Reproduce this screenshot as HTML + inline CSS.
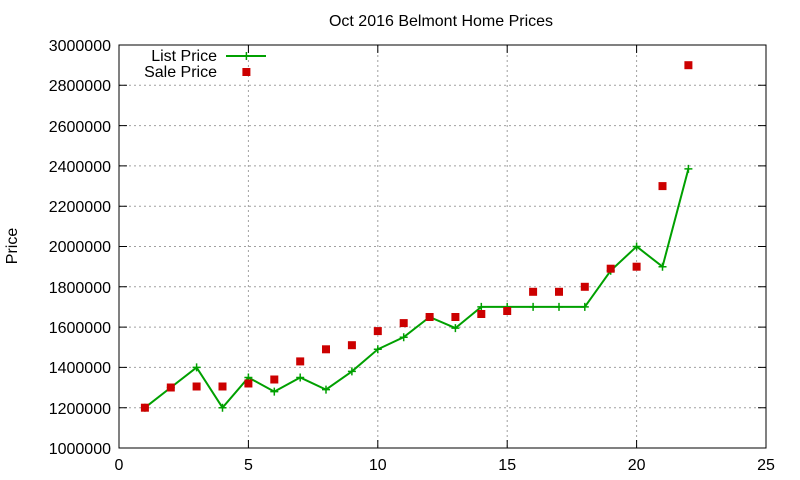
<!DOCTYPE html>
<html><head><style>body{margin:0;background:#fff}svg{display:block}text{font-family:"Liberation Sans",sans-serif;font-size:16px;fill:#000}</style></head><body>
<svg width="800" height="480" xmlns="http://www.w3.org/2000/svg">
<g stroke="#a0a0a0" stroke-width="1" stroke-dasharray="2,3">
<line x1="248.4" y1="45" x2="248.4" y2="448"/><line x1="377.8" y1="45" x2="377.8" y2="448"/><line x1="507.2" y1="45" x2="507.2" y2="448"/><line x1="636.6" y1="45" x2="636.6" y2="448"/>
<line x1="119" y1="407.7" x2="766" y2="407.7"/><line x1="119" y1="367.4" x2="766" y2="367.4"/><line x1="119" y1="327.1" x2="766" y2="327.1"/><line x1="119" y1="286.8" x2="766" y2="286.8"/><line x1="119" y1="246.5" x2="766" y2="246.5"/><line x1="119" y1="206.2" x2="766" y2="206.2"/><line x1="119" y1="165.9" x2="766" y2="165.9"/><line x1="119" y1="125.6" x2="766" y2="125.6"/><line x1="119" y1="85.3" x2="766" y2="85.3"/>
</g>
<rect x="119" y="45" width="647" height="403" fill="none" stroke="#000"/>
<g stroke="#000">
<path d="M119 407.7h8M119 367.4h8M119 327.1h8M119 286.8h8M119 246.5h8M119 206.2h8M119 165.9h8M119 125.6h8M119 85.3h8M766 407.7h-8M766 367.4h-8M766 327.1h-8M766 286.8h-8M766 246.5h-8M766 206.2h-8M766 165.9h-8M766 125.6h-8M766 85.3h-8M248.4 448v-8M377.8 448v-8M507.2 448v-8M636.6 448v-8M248.4 45v8M377.8 45v8M507.2 45v8M636.6 45v8"/>
</g>
<g text-anchor="end">
<text x="111" y="454">1000000</text><text x="111" y="414">1200000</text><text x="111" y="373">1400000</text><text x="111" y="333">1600000</text><text x="111" y="293">1800000</text><text x="111" y="252">2000000</text><text x="111" y="212">2200000</text><text x="111" y="172">2400000</text><text x="111" y="132">2600000</text><text x="111" y="91">2800000</text><text x="111" y="51">3000000</text>
</g>
<g text-anchor="middle">
<text x="119" y="470">0</text><text x="248.4" y="470">5</text><text x="377.8" y="470">10</text><text x="507.2" y="470">15</text><text x="636.6" y="470">20</text><text x="766" y="470">25</text>
<text x="441" y="26">Oct 2016 Belmont Home Prices</text>
<text transform="translate(17,246) rotate(-90)">Price</text>
</g>
<text x="217" y="61" text-anchor="end">List Price</text>
<text x="217" y="77" text-anchor="end">Sale Price</text>
<g stroke="#00a000" stroke-width="2" fill="none">
<line x1="226" y1="56" x2="266" y2="56"/>
<polyline points="144.9,407.7 170.8,387.5 196.6,367.4 222.5,407.7 248.4,377.5 274.3,391.6 300.2,377.5 326,389.6 351.9,371.4 377.8,349.3 403.7,337.2 429.6,317 455.4,328.1 481.3,306.9 507.2,306.9 533.1,306.9 559,306.9 584.8,306.9 610.7,270.7 636.6,246.5 662.5,266.7 688.4,168.9"/>
</g>
<g stroke="#00a000" stroke-width="1.5">
<path d="M242.4 56h8M246.4 52v8"/>
<path d="M140.9 407.7h8M144.9 403.7v8M166.8 387.5h8M170.8 383.5v8M192.6 367.4h8M196.6 363.4v8M218.5 407.7h8M222.5 403.7v8M244.4 377.5h8M248.4 373.5v8M270.3 391.6h8M274.3 387.6v8M296.2 377.5h8M300.2 373.5v8M322 389.6h8M326 385.6v8M347.9 371.4h8M351.9 367.4v8M373.8 349.3h8M377.8 345.3v8M399.7 337.2h8M403.7 333.2v8M425.6 317h8M429.6 313v8M451.4 328.1h8M455.4 324.1v8M477.3 306.9h8M481.3 302.9v8M503.2 306.9h8M507.2 302.9v8M529.1 306.9h8M533.1 302.9v8M555 306.9h8M559 302.9v8M580.8 306.9h8M584.8 302.9v8M606.7 270.7h8M610.7 266.7v8M632.6 246.5h8M636.6 242.5v8M658.5 266.7h8M662.5 262.7v8M684.4 168.9h8M688.4 164.9v8"/>
</g>
<g fill="#cc0000">
<rect x="242.4" y="68" width="8" height="8"/>
<rect x="140.9" y="403.7" width="8" height="8"/><rect x="166.8" y="383.5" width="8" height="8"/><rect x="192.6" y="382.5" width="8" height="8"/><rect x="218.5" y="382.5" width="8" height="8"/><rect x="244.4" y="379.5" width="8" height="8"/><rect x="270.3" y="375.5" width="8" height="8"/><rect x="296.2" y="357.4" width="8" height="8"/><rect x="322" y="345.3" width="8" height="8"/><rect x="347.9" y="341.2" width="8" height="8"/><rect x="373.8" y="327.1" width="8" height="8"/><rect x="399.7" y="319.1" width="8" height="8"/><rect x="425.6" y="313" width="8" height="8"/><rect x="451.4" y="313" width="8" height="8"/><rect x="477.3" y="310" width="8" height="8"/><rect x="503.2" y="307" width="8" height="8"/><rect x="529.1" y="287.8" width="8" height="8"/><rect x="555" y="287.8" width="8" height="8"/><rect x="580.8" y="282.8" width="8" height="8"/><rect x="606.7" y="264.7" width="8" height="8"/><rect x="632.6" y="262.7" width="8" height="8"/><rect x="658.5" y="182.1" width="8" height="8"/><rect x="684.4" y="61.2" width="8" height="8"/>
</g>
</svg>
</body></html>
